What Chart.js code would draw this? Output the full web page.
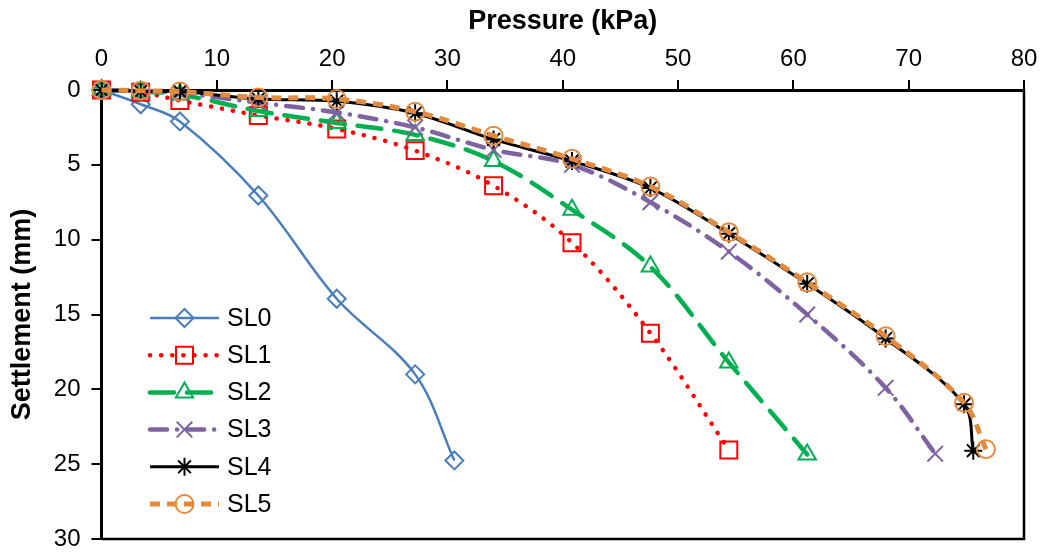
<!DOCTYPE html>
<html>
<head>
<meta charset="utf-8">
<script src="https://cdn.jsdelivr.net/npm/chart.js@4.4.1/dist/chart.umd.min.js"></script>
<style>
  html, body { margin: 0; padding: 0; background: #fff; }
  #wrap { width: 1041px; height: 553px; position: relative; }
</style>
</head>
<body>
<div id="wrap"><canvas id="settleChart"></canvas></div>
<script>
// Pressure-settlement curves

const seriesNames = ['SL0', 'SL1', 'SL2', 'SL3', 'SL4', 'SL5'];

// pressure (kPa) for each series
const pressSL0 = [0, 3.4, 6.8, 13.6, 20.4, 27.2, 30.6];
const pressSL1 = [0, 3.4, 6.8, 13.6, 20.4, 27.2, 34, 40.8, 47.6, 54.4];
const pressSL2 = [0, 3.4, 6.8, 13.6, 20.4, 27.2, 34, 40.8, 47.6, 54.4, 61.2];
const pressSL3 = [0, 3.4, 6.8, 13.6, 20.4, 27.2, 34, 40.8, 47.6, 54.4, 61.2, 68, 72.3];
const pressSL4 = [0, 3.4, 6.8, 13.6, 20.4, 27.2, 34, 40.8, 47.6, 54.4, 61.2, 68, 74.8, 75.6];
const pressSL5 = [0, 3.4, 6.8, 13.6, 20.4, 27.2, 34, 40.8, 47.6, 54.4, 61.2, 68, 74.8, 76.7];

// settlement (mm)
const settSL0 = [0, 0.95, 2.1, 7.05, 13.95, 19.0, 24.75];
const settSL1 = [0, 0.15, 0.7, 1.7, 2.6, 4.05, 6.4, 10.2, 16.25, 24.05];
const settSL2 = [0, 0.1, 0.3, 1.4, 2.2, 3.0, 4.75, 8.0, 11.8, 18.2, 24.35];
const settSL3 = [0, 0.05, 0.2, 0.85, 1.5, 2.5, 4.0, 5.0, 7.5, 10.8, 15.0, 19.9, 24.3];
const settSL4 = [0, 0.1, 0.1, 0.6, 0.75, 1.55, 3.3, 4.75, 6.55, 9.6, 12.95, 16.6, 21.0, 24.1];
const settSL5 = [0, 0.05, 0.1, 0.5, 0.6, 1.45, 3.05, 4.6, 6.45, 9.5, 12.85, 16.45, 20.9, 24.0];

// axis ticks
const xTicks = [0, 10, 20, 30, 40, 50, 60, 70, 80];
const yTicks = [0, 5, 10, 15, 20, 25, 30];

const FONT = "'Liberation Sans', Arial, sans-serif";

function pairs(xs, ys) {
    return xs.map((x, i) => ({ x: x, y: ys[i] }));
}

const styles = [
    { color: '#4A7EBB', width: 2.5, dash: [], cap: 'butt', point: 'rectRot', r: 9 },
    { color: '#FF0000', width: 4.5, dash: [0.1, 11], cap: 'round', point: 'rect', r: 12 },
    { color: '#00B050', width: 4.5, dash: [24, 13], cap: 'round', point: 'triangle', r: 10 },
    { color: '#7F63A1', width: 4.5, dash: [17, 10, 0.1, 10], cap: 'round', point: 'crossRot', r: 11 },
    { color: '#000000', width: 3, dash: [], cap: 'butt', point: 'star', r: 9 },
    { color: '#E48A3E', width: 5, dash: [10, 7], cap: 'butt', point: 'circle', r: 9 }
];

const allPress = [pressSL0, pressSL1, pressSL2, pressSL3, pressSL4, pressSL5];
const allSett = [settSL0, settSL1, settSL2, settSL3, settSL4, settSL5];

const datasets = seriesNames.map((name, i) => ({
    label: name,
    data: pairs(allPress[i], allSett[i]),
    showLine: true,
    tension: 0.35,
    borderColor: styles[i].color,
    borderWidth: styles[i].width,
    borderDash: styles[i].dash,
    borderCapStyle: styles[i].cap,
    pointStyle: styles[i].point,
    pointRadius: styles[i].r,
    pointHoverRadius: styles[i].r,
    pointBorderWidth: 2,
    pointBorderColor: styles[i].color,
    pointBackgroundColor: 'rgba(0,0,0,0)',
    order: seriesNames.length - i,
    clip: false
}));

// legend drawn inside the plot, line sample with marker in the middle
const insideLegend = {
    id: 'insideLegend',
    afterDatasetsDraw(chart) {
        const ctx = chart.ctx;
        ctx.save();
        seriesNames.forEach((name, i) => {
            const s = styles[i];
            const y = 318 + i * 37.2;
            ctx.beginPath();
            ctx.setLineDash(s.dash);
            ctx.lineCap = s.cap;
            ctx.lineWidth = s.width;
            ctx.strokeStyle = s.color;
            ctx.moveTo(150, y);
            ctx.lineTo(219, y);
            ctx.stroke();
            ctx.setLineDash([]);
            ctx.lineCap = 'butt';
            ctx.strokeStyle = s.color;
            ctx.fillStyle = 'rgba(0,0,0,0)';
            ctx.lineWidth = 2;
            Chart.helpers.drawPoint(ctx, { pointStyle: s.point, radius: s.r, rotation: 0, borderWidth: 2 }, 184.5, y);
            ctx.fillStyle = '#000';
            ctx.font = '25px ' + FONT;
            ctx.textBaseline = 'middle';
            ctx.textAlign = 'left';
            ctx.fillText(name, 227, y + 1);
        });
        ctx.restore();
    }
};

// right and bottom edges of the plot box
const plotBox = {
    id: 'plotBox',
    afterDraw(chart) {
        const a = chart.chartArea;
        const ctx = chart.ctx;
        ctx.save();
        ctx.strokeStyle = '#000';
        ctx.lineWidth = 2.5;
        ctx.beginPath();
        ctx.moveTo(a.right, a.top);
        ctx.lineTo(a.right, a.bottom);
        ctx.lineTo(a.left, a.bottom);
        ctx.stroke();
        ctx.restore();
    }
};

const settleCtx = document.getElementById('settleChart').getContext('2d');
const settleChart = new Chart(settleCtx, {
    type: 'scatter',
    data: { datasets: datasets },
    options: {
        responsive: true,
        maintainAspectRatio: false,
        animation: false,
        events: [],
        layout: { padding: { left: 0, top: 0, right: 17, bottom: 13 } },
        plugins: {
            legend: { display: false },
            tooltip: { enabled: false }
        },
        scales: {
            x: {
                type: 'linear',
                position: 'top',
                min: 0,
                max: 80,
                afterBuildTicks: (scale) => { scale.ticks = xTicks.map(v => ({ value: v })); },
                afterFit: (scale) => {
                    scale.height = 90;
                    scale.paddingLeft = 0;
                    scale.paddingRight = 0;
                },
                ticks: { color: '#000', font: { family: FONT, size: 24 }, padding: 6, maxRotation: 0 },
                grid: { drawOnChartArea: false, tickLength: 10, color: '#000', lineWidth: 2 },
                border: { display: true, color: '#000', width: 3 },
                title: {
                    display: true,
                    text: 'Pressure (kPa)',
                    color: '#000',
                    font: { family: FONT, size: 27, weight: 'bold' },
                    padding: { top: 5, bottom: 0 }
                }
            },
            y: {
                type: 'linear',
                reverse: true,
                min: 0,
                max: 30,
                afterBuildTicks: (scale) => { scale.ticks = yTicks.map(v => ({ value: v })); },
                afterFit: (scale) => {
                    scale.width = 101.5;
                    scale.paddingTop = 0;
                    scale.paddingBottom = 0;
                },
                ticks: { color: '#000', font: { family: FONT, size: 24 }, padding: 11 },
                grid: { drawOnChartArea: false, tickLength: 10, color: '#000', lineWidth: 2 },
                border: { display: true, color: '#000', width: 3 },
                title: {
                    display: true,
                    text: 'Settlement (mm)',
                    color: '#000',
                    font: { family: FONT, size: 27, weight: 'bold' },
                    padding: { top: 6, bottom: 0 }
                }
            }
        }
    },
    plugins: [insideLegend, plotBox]
});
</script>
</body>
</html>
